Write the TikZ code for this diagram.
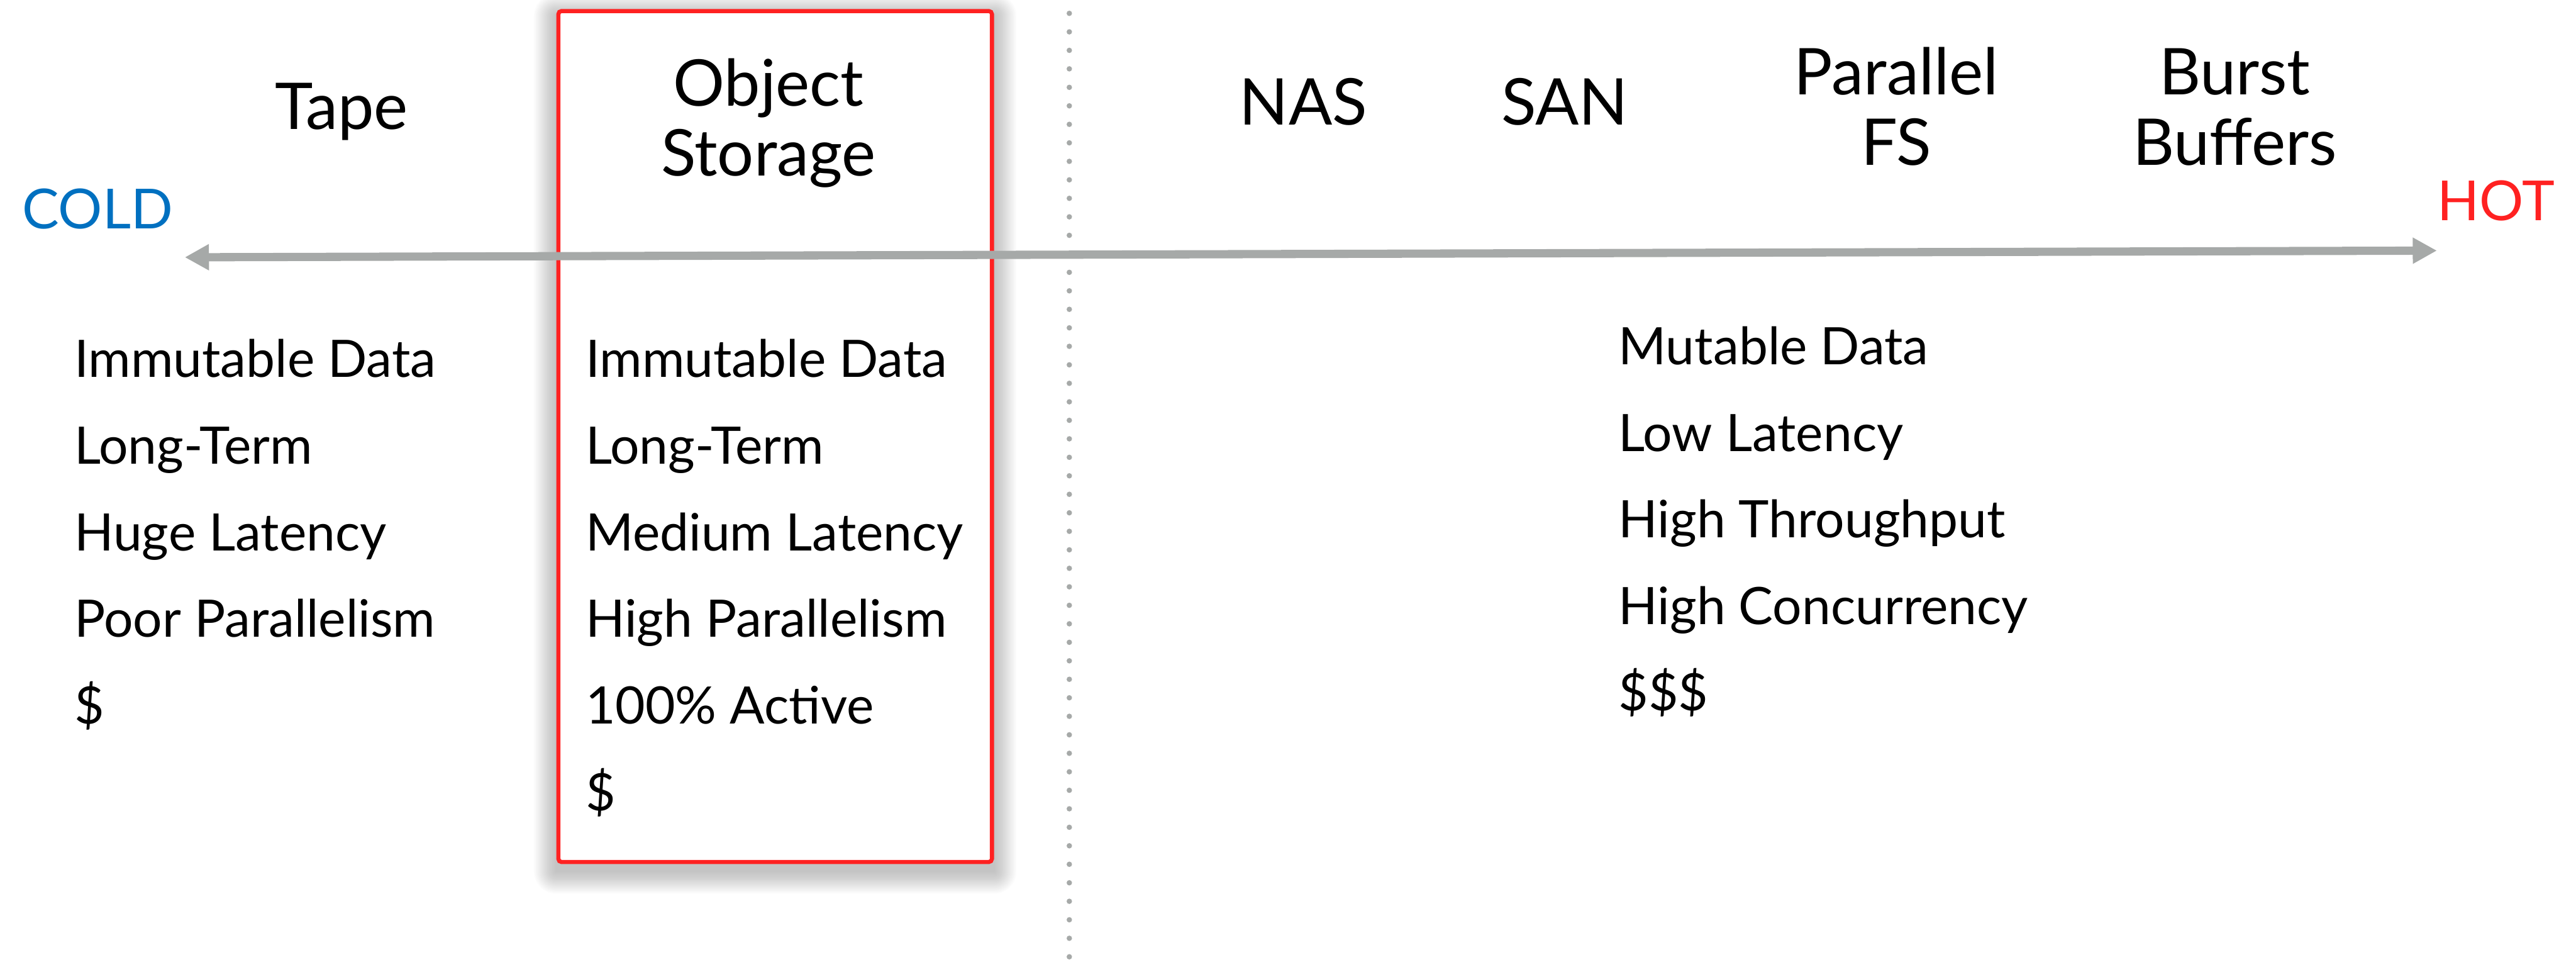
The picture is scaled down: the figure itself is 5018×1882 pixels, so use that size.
\documentclass[tikz,border=0pt]{standalone}
\usepackage{fontspec}
\setmainfont{Lato}
\usepackage{tikz}
\usetikzlibrary{arrows.meta,backgrounds}
\definecolor{coldblue}{RGB}{0,112,192}
\definecolor{hotred}{RGB}{255,33,33}
\definecolor{axisgray}{RGB}{166,169,168}

\begin{document}
\begin{tikzpicture}[
    x=0.01cm, y=-0.01cm,
    hdr/.style={anchor=base, align=center, inner sep=0, font=\fontsize{35.7}{39}\selectfont},
    item/.style={anchor=base west, inner sep=0, font=\fontsize{28.6}{34}\selectfont},
    temp/.style={anchor=base, inner sep=0, font=\fontsize{30.6}{36}\selectfont},
    focus/.style={rectangle, draw=hotred, line width=0.08cm, fill=white, rounded corners=0.06cm, minimum width=8.44cm, minimum height=16.56cm, inner sep=0},
    axis/.style={{Triangle[length=0.47cm,width=0.48cm]}-{Triangle[length=0.47cm,width=0.48cm]}, draw=axisgray, line width=0.16cm},
    divider/.style={draw=axisgray, line width=0.105cm, line cap=round, dash pattern=on 0pt off 0.36cm}
]
    \useasboundingbox (0,0) rectangle (5018,1882);

    % highlighted column
    \node[focus] (objbox) at (1510,850) {};
    \begin{scope}[on background layer]
        \foreach \r in {2,4,...,44}
            \fill[black, opacity=0.011, rounded corners=\r*0.01cm] ([xshift=-\r*0.01cm, yshift=-(\r+14)*0.01cm]objbox.south west) rectangle ([xshift=\r*0.01cm, yshift=(\r-14)*0.01cm]objbox.north east);
    \end{scope}

    % dotted separator
    \coordinate (divtop) at (2083,26);
    \coordinate (divbot) at (2083,1900);
    \draw[divider] (divtop) -- (divbot);

    % cold <-> hot axis
    \coordinate (coldend) at (360,501);
    \coordinate (hotend) at (4747,488);
    \draw[axis] (coldend) -- (hotend);
    \node[temp, text=coldblue] (coldlbl) at (190,445) {COLD};
    \node[temp, text=hotred] (hotlbl) at (4862,429) {HOT};

    % tiers
    \node[hdr] (tape) at (665,252) {Tape};
    \node[hdr] (objstore) at (1497,343) {Object\\Storage};
    \node[hdr] (nas) at (2539,243) {NAS};
    \node[hdr] (san) at (3048,243) {SAN};
    \node[hdr] (pfs) at (3694,322) {Parallel\\FS};
    \node[hdr] (bb) at (4353,322) {Burst\\Buffers};

    % tape properties
    \node[item] (tape1) at (144,735) {Immutable Data};
    \node[item] (tape2) at (144,904) {Long-Term};
    \node[item] (tape3) at (144,1072) {Huge Latency};
    \node[item] (tape4) at (144,1241) {Poor Parallelism};
    \node[item] (tape5) at (144,1409) {\$};

    % object storage properties
    \node[item] (obj1) at (1140,735) {Immutable Data};
    \node[item] (obj2) at (1140,904) {Long-Term};
    \node[item] (obj3) at (1140,1072) {Medium Latency};
    \node[item] (obj4) at (1140,1241) {High Parallelism};
    \node[item] (obj5) at (1140,1409) {100\% Active};
    \node[item] (obj6) at (1140,1578) {\$};

    % hot tier properties
    \node[item] (fast1) at (3152,710) {Mutable Data};
    \node[item] (fast2) at (3152,879) {Low Latency};
    \node[item] (fast3) at (3152,1047) {High Throughput};
    \node[item] (fast4) at (3152,1216) {High Concurrency};
    \node[item] (fast5) at (3152,1384) {\$\$\$};
\end{tikzpicture}
\end{document}
